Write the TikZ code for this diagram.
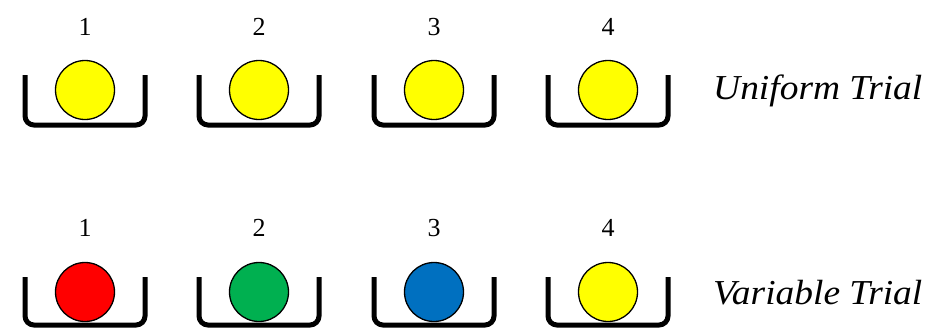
\documentclass[tikz,border=0pt]{standalone}
\usepackage{fontspec}
\setmainfont{Liberation Serif}
\newfontfamily\trialfont[FakeStretch=1.07]{Liberation Serif}
\definecolor{ballyellow}{RGB}{255,255,0}
\definecolor{ballred}{RGB}{255,0,0}
\definecolor{ballgreen}{RGB}{0,176,80}
\definecolor{ballblue}{RGB}{0,112,192}
\begin{document}
\begin{tikzpicture}[x=1pt,y=-1pt,
  cup/.style={line width=5pt,rounded corners=9pt},
  ball/.style={circle,draw=black,line width=1.3pt,minimum size=59pt,inner sep=0pt},
  num/.style={font=\fontsize{26}{28}\selectfont},
  trial/.style={font=\trialfont\fontsize{35}{40}\selectfont\itshape,anchor=west,inner sep=0pt}]
\useasboundingbox (0,0) rectangle (947,330);
\foreach \i/\cx in {1/85,2/259,3/434,4/608}{
  \draw[cup] (\cx-60,75) -- (\cx-60,125) -- (\cx+60,125) -- (\cx+60,75);
  \draw[cup] (\cx-60,277) -- (\cx-60,325) -- (\cx+60,325) -- (\cx+60,277);
  \node[num] (na\i) at (\cx,27) {\i};
  \node[num] (nb\i) at (\cx,228) {\i};
}
\node[ball,fill=ballyellow] (a1) at (85,90) {};
\node[ball,fill=ballyellow] (a2) at (259,90) {};
\node[ball,fill=ballyellow] (a3) at (434,90) {};
\node[ball,fill=ballyellow] (a4) at (608,90) {};
\node[ball,fill=ballred] (b1) at (85,292) {};
\node[ball,fill=ballgreen] (b2) at (259,292) {};
\node[ball,fill=ballblue] (b3) at (434,292) {};
\node[ball,fill=ballyellow] (b4) at (608,292) {};
\node[trial] (tu) at (713,91) {Uniform Trial};
\node[trial] (tv) at (713,293) {Variable Trial};
\end{tikzpicture}
\end{document}
